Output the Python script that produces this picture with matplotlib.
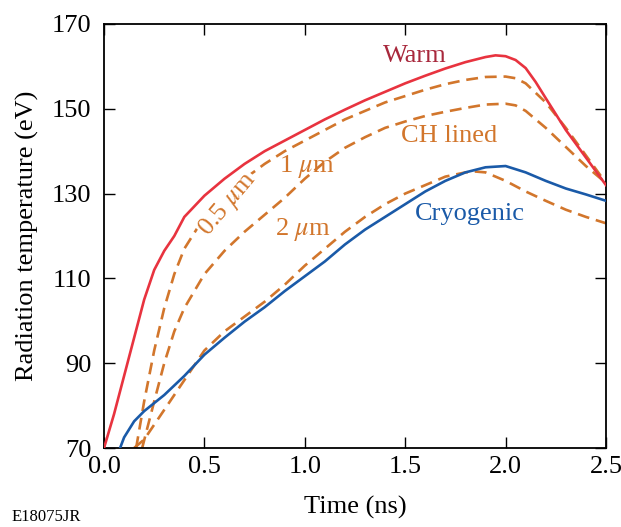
import matplotlib
matplotlib.use("Agg")
import matplotlib.pyplot as plt

plt.rcParams['font.family'] = ['Liberation Serif', 'DejaVu Serif']
plt.rcParams['mathtext.fontset'] = 'stix'

# Warm (solid red)
warm_t = [0, 0.05, 0.1, 0.15, 0.2, 0.25, 0.3, 0.35, 0.4, 0.5, 0.6, 0.7, 0.8, 0.9, 1.0, 1.1, 1.2,
          1.3, 1.4, 1.5, 1.6, 1.7, 1.8, 1.9, 1.95, 2.0, 2.05, 2.1, 2.15, 2.2, 2.3, 2.4, 2.5]
warm_T = [70, 78, 87, 96, 105, 112, 116.5, 120, 124.5, 129.5, 133.5, 137, 140, 142.5, 145, 147.5, 149.8,
          152, 154, 156, 157.8, 159.5, 161, 162.2, 162.6, 162.4, 161.5, 159.6, 156.3, 152.5, 145, 138.5, 132]

# CH lined, 0.5 um
ch05_t = [0.16, 0.2, 0.25, 0.3, 0.35, 0.4, 0.5, 0.6, 0.7, 0.8, 0.9, 1.0, 1.1, 1.2, 1.3, 1.4,
          1.5, 1.6, 1.7, 1.8, 1.9, 2.0, 2.05, 2.1, 2.2, 2.3, 2.4, 2.5]
ch05_T = [70, 81, 93, 103, 111, 117, 124.5, 129.5, 133.5, 137, 140, 142.5, 145, 147.5, 149.5, 151.5,
          153, 154.5, 155.8, 156.8, 157.5, 157.6, 157.2, 156, 151.5, 145.5, 139, 132.5]

# CH lined, 1 um
ch1_t = [0.19, 0.25, 0.3, 0.35, 0.4, 0.5, 0.6, 0.7, 0.8, 0.9, 1.0, 1.1, 1.2, 1.3, 1.4, 1.5,
         1.6, 1.7, 1.8, 1.9, 2.0, 2.05, 2.1, 2.2, 2.3, 2.4, 2.5]
ch1_T = [70, 81, 90, 97.5, 103, 111, 116.5, 121, 125, 129, 133.5, 137.5, 140.8, 143.3, 145.5, 147,
         148.3, 149.3, 150.2, 151, 151.2, 150.8, 149.5, 145.5, 141, 136.5, 132.5]

# CH lined, 2 um
ch2_t = [0.15, 0.2, 0.3, 0.4, 0.5, 0.6, 0.7, 0.8, 0.9, 1.0, 1.1, 1.2, 1.3, 1.4, 1.5, 1.6,
         1.7, 1.8, 1.85, 1.9, 2.0, 2.1, 2.2, 2.3, 2.4, 2.5]
ch2_T = [70, 72, 79, 86, 93, 97.5, 101, 104.5, 108.5, 113, 117, 121, 124.5, 127.5, 130, 132,
         134, 135, 135.2, 135, 133, 130.5, 128.3, 126.2, 124.5, 123]

# Cryogenic (solid blue)
cryo_t = [0.08, 0.1, 0.15, 0.2, 0.3, 0.4, 0.5, 0.6, 0.7, 0.8, 0.9, 1.0, 1.1, 1.2, 1.3, 1.4,
          1.5, 1.6, 1.7, 1.8, 1.9, 2.0, 2.1, 2.2, 2.3, 2.4, 2.5]
cryo_T = [70, 72.5, 76.3, 78.7, 82.5, 87, 92, 96, 99.8, 103.2, 107, 110.5, 114, 118, 121.5, 124.5,
          127.5, 130.5, 133, 135, 136.2, 136.5, 135, 133, 131.2, 129.8, 128.3]

red = '#e8333f'
orange = '#d2762c'
blue = '#1a5aa8'

fig = plt.figure(figsize=(6.21, 5.27), dpi=100)
ax = fig.add_axes([0.1675, 0.1499, 0.8083, 0.8046])

dash = (0, (4.5, 2.6))
ax.plot(ch05_t, ch05_T, color=orange, lw=1.9, linestyle=dash, zorder=2)
ax.plot(ch1_t, ch1_T, color=orange, lw=1.9, linestyle=dash, zorder=2)
ax.plot(ch2_t, ch2_T, color=orange, lw=1.9, linestyle=dash, zorder=2)
ax.plot(cryo_t, cryo_T, color=blue, lw=1.9, zorder=4)
ax.plot(warm_t, warm_T, color=red, lw=1.9, zorder=4)

fs = 19
ax.text(1.55, 162.5, 'Warm', color='#a8283c', fontsize=fs, ha='center', va='center')
ax.text(1.72, 143.5, 'CH lined', color=orange, fontsize=fs, ha='center', va='center')
ax.text(1.82, 125.3, 'Cryogenic', color=blue, fontsize=fs, ha='center', va='center')
ax.text(1.01, 136.5, r'1 $\mu$m', color=orange, fontsize=fs, ha='center', va='center')
ax.text(0.99, 121.5, r'2 $\mu$m', color=orange, fontsize=fs, ha='center', va='center')
ax.text(0.615, 127.5, r'0.5 $\mu$m', color=orange, fontsize=fs, ha='center', va='center',
        rotation=50, zorder=3,
        bbox=dict(facecolor='white', edgecolor='none', pad=0.5))

ax.set_xlim(0, 2.5)
ax.set_ylim(70, 170)
ax.set_xticks([0, 0.5, 1.0, 1.5, 2.0, 2.5])
ax.set_xticklabels(['0.0', '0.5', '1.0', '1.5', '2.0', '2.5'])
ax.set_yticks([70, 90, 110, 130, 150, 170])
ax.tick_params(direction='in', length=8, width=1.0, top=True, right=True,
               labelsize=19, color='black')
ax.tick_params(axis='x', pad=6)
ax.tick_params(axis='y', pad=9)
for s in ax.spines.values():
    s.set_linewidth(1.3)
    s.set_color('black')

ax.set_xlabel('Time (ns)', fontsize=19, labelpad=13)
ax.set_ylabel('Radiation temperature (eV)', fontsize=19, labelpad=9)

fig.text(0.019, 0.004, 'E18075JR', fontsize=12, ha='left', va='bottom')

fig.savefig('out.png', dpi=100)
